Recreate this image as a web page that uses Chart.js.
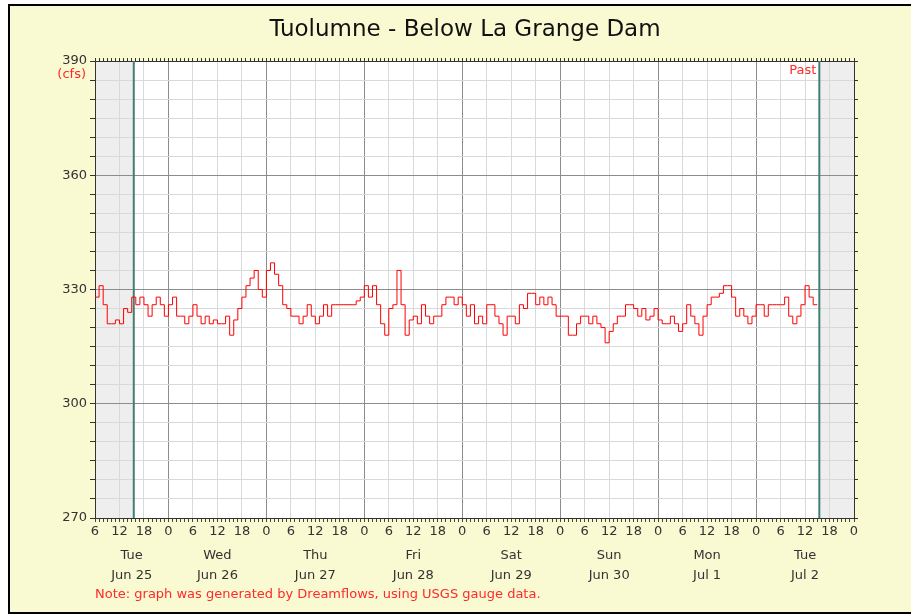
<!DOCTYPE html>
<html lang="en">
<head>
<meta charset="UTF-8">
<title>Tuolumne - Below La Grange Dam</title>
<script src="https://cdn.jsdelivr.net/npm/chart.js"></script>
<style>
  html, body { margin: 0; padding: 0; background: #fff; overflow: hidden; }
  #frame { position: absolute; left: 8px; top: 4px; width: 903px; height: 606px; border: 2px solid #000; border-right: none; background: #f9f9d2; }
  #wrap { position: absolute; left: 0; top: 0; width: 911px; height: 614px; }
</style>
</head>
<body>
<div id="frame"></div>
<div id="wrap"><canvas id="flowChart" width="911" height="614"></canvas></div>

<script>
  // hours counted from Jun 25 00:00; gauge readings are hourly from Jun 25 06:00
  const startHour = 6;
  const endHour = 192;
  const pastHour = 15.5;
  const nowHour = 183.5;

  const flowCfs = [
    328, 331, 326, 321, 321, 322, 321, 325, 324, 328, 326, 328,
    326, 323, 326, 328, 326, 323, 326, 328, 323, 323, 321, 323,
    326, 323, 321, 323, 321, 322, 321, 321, 323, 318, 322, 325,
    328, 331, 333, 335, 330, 328, 335, 337, 334, 331, 326, 325,
    323, 323, 321, 323, 326, 323, 321, 323, 326, 323, 326, 326,
    326, 326, 326, 326, 327, 328, 331, 328, 331, 326, 321, 318,
    325, 326, 335, 326, 318, 322, 323, 321, 326, 323, 321, 323,
    323, 326, 328, 328, 326, 328, 326, 323, 326, 321, 323, 321,
    326, 326, 323, 321, 318, 323, 323, 321, 326, 325, 329, 329,
    326, 328, 326, 328, 326, 323, 323, 323, 318, 318, 321, 323,
    323, 321, 323, 321, 320, 316, 319, 321, 323, 323, 326, 326,
    325, 323, 325, 322, 323, 325, 322, 321, 321, 323, 321, 319,
    321, 326, 323, 321, 318, 323, 326, 328, 328, 329, 331, 331,
    328, 323, 325, 323, 321, 323, 326, 326, 323, 326, 326, 326,
    326, 328, 323, 321, 323, 326, 331, 328, 326, 326
  ];

  const dayTickHours = [15, 36, 60, 84, 108, 132, 156, 180];
  const dayNames = ['Tue', 'Wed', 'Thu', 'Fri', 'Sat', 'Sun', 'Mon', 'Tue'];
  const dayDates = ['Jun 25', 'Jun 26', 'Jun 27', 'Jun 28', 'Jun 29', 'Jun 30', 'Jul 1', 'Jul 2'];

  const yMin = 270;
  const yMax = 390;

  const hourValues = [];
  for (let h = startHour; h <= endHour; h++) hourValues.push(h);
  const cfsValues = [];
  for (let v = yMin; v <= yMax; v += 5) cfsValues.push(v);

  // every axis gets its own tick objects, otherwise labels get overwritten
  const tickObjs = vals => vals.map(v => ({ value: v }));

  const points = flowCfs.map((v, i) => ({ x: startHour + i, y: v }));

  Chart.defaults.font.family = '"DejaVu Sans", sans-serif';

  const decor = {
    id: 'decor',
    beforeDraw(chart) {
      const { ctx, chartArea: a, scales } = chart;
      const px = scales.x;
      ctx.save();
      ctx.fillStyle = '#ffffff';
      ctx.fillRect(a.left, a.top, a.right - a.left, a.bottom - a.top);
      ctx.fillStyle = '#eeeeee';
      const p0 = px.getPixelForValue(pastHour);
      const p1 = px.getPixelForValue(nowHour);
      ctx.fillRect(a.left, a.top, p0 - a.left, a.bottom - a.top);
      ctx.fillRect(p1, a.top, a.right - p1, a.bottom - a.top);
      ctx.restore();
    },
    beforeDatasetsDraw(chart) {
      const { ctx, chartArea: a, scales } = chart;
      ctx.save();
      ctx.strokeStyle = '#3f7f74';
      ctx.lineWidth = 2;
      [pastHour, nowHour].forEach(h => {
        const p = scales.x.getPixelForValue(h);
        ctx.beginPath();
        ctx.moveTo(p, a.top);
        ctx.lineTo(p, a.bottom);
        ctx.stroke();
      });
      ctx.restore();
    },
    afterDraw(chart) {
      const { ctx, chartArea: a, scales } = chart;
      ctx.save();
      ctx.fillStyle = '#111';
      ctx.font = '23px "DejaVu Sans"';
      ctx.textAlign = 'center';
      ctx.textBaseline = 'middle';
      ctx.fillText('Tuolumne - Below La Grange Dam', 465, 30);

      ctx.fillStyle = '#ff2a2a';
      ctx.font = '13px "DejaVu Sans"';
      ctx.textAlign = 'right';
      ctx.fillText('(cfs)', a.left - 9, a.top + 14);
      ctx.fillText('Past', scales.x.getPixelForValue(nowHour) - 3, a.top + 10);

      ctx.textAlign = 'left';
      ctx.fillText('Note: graph was generated by Dreamflows, using USGS gauge data.', a.left, 595);
      ctx.restore();
    }
  };

  new Chart(document.getElementById('flowChart'), {
    type: 'line',
    data: {
      datasets: [{
        data: points,
        borderColor: '#ff0000',
        borderWidth: 1,
        pointRadius: 0,
        stepped: true,
        xAxisID: 'x',
        yAxisID: 'y'
      }]
    },
    options: {
      responsive: false,
      animation: false,
      layout: { padding: 0 },
      plugins: { legend: { display: false }, tooltip: { enabled: false } },
      scales: {
        x: {
          type: 'linear', position: 'bottom', min: startHour, max: endHour, weight: 0,
          afterBuildTicks: ax => { ax.ticks = tickObjs(hourValues); },
          afterFit: ax => { ax.height = 24; },
          grid: {
            color: c => c.tick.value % 24 === 0 ? '#8c8c8c' : (c.tick.value % 6 === 0 ? '#d9d9d9' : 'rgba(0,0,0,0)'),
            tickColor: '#444',
            tickLength: 4
          },
          border: { color: '#333' },
          ticks: {
            autoSkip: false, maxRotation: 0, padding: 2, color: '#333', font: { size: 13 },
            callback: v => v % 6 === 0 ? String(v % 24) : ''
          }
        },
        xDay: {
          axis: 'x', type: 'linear', position: 'bottom', min: startHour, max: endHour, weight: 1,
          afterBuildTicks: ax => { ax.ticks = tickObjs(dayTickHours); },
          afterFit: ax => { ax.height = 72; },
          grid: { display: false, drawTicks: false },
          border: { display: false },
          ticks: {
            autoSkip: false, maxRotation: 0, padding: 4, color: '#333', font: { size: 13, lineHeight: 1.5 },
            callback: (v, i) => [dayNames[i], dayDates[i]]
          }
        },
        xTop: {
          axis: 'x', type: 'linear', position: 'top', min: startHour, max: endHour,
          afterBuildTicks: ax => { ax.ticks = tickObjs(hourValues); },
          afterFit: ax => { ax.height = 61; },
          grid: { drawOnChartArea: false, tickLength: 3, color: '#333' },
          border: { color: '#333' },
          ticks: { display: false }
        },
        y: {
          type: 'linear', position: 'left', min: yMin, max: yMax,
          afterBuildTicks: ax => { ax.ticks = tickObjs(cfsValues); },
          afterFit: ax => { ax.width = 95; },
          grid: {
            color: c => c.tick.value % 30 === 0 ? '#8c8c8c' : '#d9d9d9',
            tickColor: '#333',
            tickLength: 5
          },
          border: { color: '#333' },
          ticks: {
            autoSkip: false, padding: 3, color: '#333', font: { size: 13 },
            callback: v => v % 30 === 0 ? String(v) : ''
          }
        },
        yRight: {
          axis: 'y', type: 'linear', position: 'right', min: yMin, max: yMax,
          afterBuildTicks: ax => { ax.ticks = tickObjs(cfsValues); },
          afterFit: ax => { ax.width = 57; },
          grid: { drawOnChartArea: false, tickLength: 4, color: '#333' },
          border: { color: '#333' },
          ticks: { display: false }
        }
      }
    },
    plugins: [decor]
  });
</script>
</body>
</html>
